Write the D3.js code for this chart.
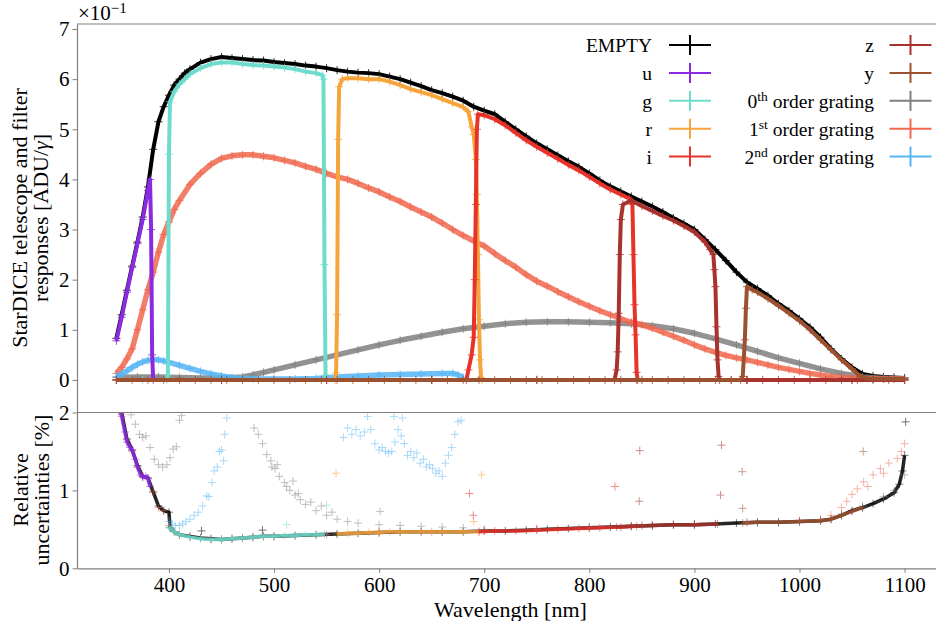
<!DOCTYPE html>
<html>
<head>
<meta charset="utf-8">
<script src="https://cdn.jsdelivr.net/npm/d3@7"></script>
<style>
  body { margin: 0; background: #fff; }
  svg, svg text { font-family: "Liberation Serif", "Times New Roman", Times, "Tinos", "Nimbus Roman", "DejaVu Serif", serif; fill: #000; }
</style>
</head>
<body>
<svg id="chart" width="936" height="621" font-family="Liberation Serif, Times New Roman, DejaVu Serif, serif"></svg>
<script>
// tick labels
const xTicks = [400, 500, 600, 700, 800, 900, 1000, 1100];
const topTicks = [0, 1, 2, 3, 4, 5, 6, 7];
const botTicks = [0, 1, 2];

// legend entries: [main, superscript, rest]
const legendLeft = [["EMPTY"], ["u"], ["g"], ["r"], ["i"]];
const legendRight = [["z"], ["y"], ["0", "th", " order grating"], ["1", "st", " order grating"], ["2", "nd", " order grating"]];

// responses, units of 1e-1 ADU/photon : [wavelength nm, value]
const respEmpty = [[350,0.83],[355,1.3],[360,1.79],[365,2.27],[370,2.75],[375,3.25],[380,3.85],[385,4.6],[390,5.15],[395,5.45],[400,5.68],[405,5.88],[410,6.0],[415,6.12],[420,6.2],[430,6.33],[440,6.4],[450,6.44],[460,6.42],[470,6.4],[480,6.38],[490,6.37],[500,6.34],[510,6.32],[520,6.3],[530,6.27],[540,6.25],[550,6.22],[560,6.18],[570,6.15],[580,6.13],[590,6.12],[600,6.1],[610,6.05],[620,6.0],[630,5.93],[640,5.86],[650,5.78],[660,5.72],[670,5.65],[680,5.57],[690,5.45],[700,5.37],[710,5.3],[720,5.15],[730,5.0],[740,4.86],[750,4.72],[760,4.6],[770,4.48],[780,4.36],[790,4.25],[800,4.12],[810,3.98],[820,3.86],[830,3.76],[840,3.66],[850,3.56],[860,3.46],[870,3.35],[880,3.23],[890,3.12],[900,3.0],[910,2.8],[920,2.6],[930,2.38],[940,2.15],[950,1.95],[960,1.82],[970,1.68],[980,1.52],[990,1.38],[1000,1.22],[1010,1.05],[1020,0.85],[1030,0.62],[1040,0.42],[1050,0.25],[1060,0.12],[1070,0.08],[1080,0.06],[1090,0.05],[1100,0.04]];
const respU = [[350,0.78],[355,1.25],[360,1.75],[365,2.24],[370,2.72],[375,3.2],[380,3.78],[382,4.0],[383,3.0],[384,0.5],[385,0],[450,0],[550,0],[650,0],[750,0],[850,0],[950,0],[1050,0],[1100,0]];
const respG = [[350,0],[375,0],[398,0],[399,0.1],[400,4.5],[401,5.55],[405,5.75],[410,5.9],[415,6.0],[420,6.1],[430,6.22],[440,6.3],[450,6.33],[460,6.33],[470,6.3],[480,6.28],[490,6.27],[500,6.25],[510,6.23],[520,6.2],[530,6.15],[540,6.12],[546,6.08],[547,6.0],[548,2.3],[549,0.1],[550,0],[650,0],[750,0],[850,0],[950,0],[1050,0],[1100,0]];
const respR = [[350,0],[450,0],[558,0],[559,0.14],[560,1.3],[561,4.8],[562,5.85],[565,6.0],[570,6.02],[580,6.02],[590,6.0],[600,6.0],[610,5.95],[620,5.88],[630,5.8],[640,5.74],[650,5.68],[660,5.6],[670,5.52],[680,5.44],[685,5.35],[688,5.05],[690,4.9],[692,4.4],[693,3.7],[694,2.5],[695,1.2],[696,0.4],[697,0.05],[698,0],[750,0],[850,0],[950,0],[1050,0],[1100,0]];
const respI = [[350,0],[450,0],[550,0],[650,0],[683,0],[685,0.2],[688,0.5],[690,0.85],[691,2.0],[692,3.5],[693,5.0],[694,5.3],[700,5.28],[710,5.2],[720,5.08],[730,4.93],[740,4.78],[750,4.65],[760,4.53],[770,4.41],[780,4.29],[790,4.18],[800,4.05],[810,3.92],[820,3.8],[830,3.7],[838,3.62],[841,3.5],[842,2.5],[843,1.5],[844,0.9],[845,0.15],[846,0],[950,0],[1050,0],[1100,0]];
const respZ = [[350,0],[450,0],[550,0],[650,0],[750,0],[824,0],[826,0.2],[827,0.56],[828,1.33],[829,2.5],[830,3.2],[832,3.5],[840,3.58],[850,3.47],[860,3.37],[870,3.27],[880,3.18],[890,3.07],[900,2.95],[910,2.75],[915,2.6],[918,2.5],[919,2.2],[920,1.86],[921,1.06],[922,0.4],[923,0.07],[924,0],[935,0],[950,0],[965,0],[980,0],[995,0],[1010,0],[1025,0],[1040,0],[1055,0],[1070,0],[1085,0],[1100,0]];
const respY = [[350,0],[365,0],[380,0],[395,0],[410,0],[425,0],[440,0],[455,0],[470,0],[485,0],[500,0],[515,0],[530,0],[545,0],[560,0],[575,0],[590,0],[605,0],[620,0],[635,0],[650,0],[665,0],[680,0],[695,0],[710,0],[725,0],[740,0],[755,0],[770,0],[785,0],[800,0],[815,0],[830,0],[845,0],[860,0],[875,0],[890,0],[905,0],[920,0],[935,0],[944,0],[946,0.07],[948,0.8],[949,1.43],[950,1.86],[955,1.8],[960,1.75],[970,1.62],[980,1.48],[990,1.33],[1000,1.18],[1010,1.0],[1020,0.8],[1030,0.6],[1040,0.4],[1050,0.22],[1058,0.07],[1065,0.03],[1070,0.02],[1080,0.02],[1090,0.02],[1100,0.02]];
const resp0th = [[350,0.05],[370,0.06],[390,0.06],[410,0.05],[430,0.04],[450,0.04],[470,0.06],[480,0.1],[490,0.15],[500,0.2],[520,0.3],[540,0.4],[560,0.5],[580,0.6],[600,0.7],[620,0.79],[640,0.87],[660,0.95],[680,1.02],[700,1.07],[720,1.12],[740,1.15],[760,1.16],[780,1.16],[800,1.15],[820,1.14],[840,1.12],[860,1.08],[880,1.02],[900,0.93],[920,0.82],[940,0.7],[960,0.57],[980,0.44],[1000,0.33],[1020,0.22],[1040,0.13],[1060,0.06],[1080,0.03],[1100,0.02]];
const resp1st = [[350,0.13],[355,0.25],[360,0.42],[365,0.62],[370,1.0],[375,1.4],[380,1.8],[385,2.15],[390,2.55],[395,2.9],[400,3.15],[405,3.4],[410,3.58],[420,3.9],[430,4.12],[440,4.3],[450,4.42],[460,4.47],[470,4.49],[480,4.49],[490,4.46],[500,4.43],[510,4.38],[520,4.33],[530,4.26],[540,4.2],[550,4.12],[560,4.05],[570,4.0],[580,3.92],[590,3.83],[600,3.75],[610,3.65],[620,3.56],[630,3.45],[640,3.35],[650,3.25],[660,3.13],[670,3.0],[680,2.88],[690,2.77],[700,2.67],[710,2.52],[720,2.38],[730,2.25],[740,2.1],[750,1.97],[760,1.87],[770,1.76],[780,1.66],[790,1.56],[800,1.47],[810,1.38],[820,1.3],[830,1.22],[840,1.15],[850,1.1],[860,1.03],[870,0.95],[880,0.87],[890,0.79],[900,0.7],[910,0.62],[920,0.55],[930,0.49],[940,0.44],[950,0.4],[960,0.35],[970,0.3],[980,0.25],[990,0.21],[1000,0.17],[1010,0.13],[1020,0.1],[1030,0.07],[1040,0.05],[1050,0.04],[1060,0.03],[1070,0.02],[1080,0.02],[1090,0.02],[1100,0.02]];
const resp2nd = [[350,0.07],[355,0.12],[360,0.18],[365,0.25],[370,0.31],[375,0.36],[380,0.39],[385,0.4],[390,0.4],[395,0.38],[400,0.35],[410,0.29],[420,0.23],[430,0.17],[440,0.12],[450,0.08],[460,0.05],[470,0.03],[480,0.02],[500,0.02],[520,0.02],[540,0.03],[560,0.06],[580,0.08],[600,0.1],[620,0.11],[640,0.12],[660,0.13],[670,0.13],[675,0.1],[680,0.05]];

// relative uncertainties in % : [wavelength nm, value]
const uncEmpty = [[350,2.3],[355,2.0],[360,1.66],[365,1.52],[370,1.32],[375,1.18],[380,1.16],[385,0.98],[390,0.8],[395,0.74],[400,0.72],[401,0.52],[405,0.47],[410,0.43],[420,0.41],[430,0.39],[440,0.38],[450,0.37],[460,0.38],[470,0.39],[480,0.4],[490,0.41],[500,0.41],[520,0.42],[540,0.43],[560,0.44],[580,0.45],[600,0.46],[620,0.47],[640,0.47],[660,0.47],[680,0.47],[700,0.48],[720,0.48],[740,0.49],[760,0.5],[780,0.51],[800,0.52],[820,0.53],[840,0.54],[860,0.55],[880,0.56],[900,0.56],[920,0.57],[940,0.58],[960,0.59],[980,0.59],[1000,0.6],[1020,0.61],[1030,0.63],[1040,0.68],[1050,0.74],[1060,0.78],[1070,0.83],[1080,0.89],[1090,0.97],[1095,1.08],[1098,1.25],[1100,1.45]];
const uncU = [[352,2.05],[355,1.95],[358,1.75],[360,1.62],[363,1.55],[365,1.52],[368,1.4],[370,1.3],[373,1.2],[375,1.17],[378,1.18],[380,1.15],[382,1.05]];
const uncG = [[400,0.53],[405,0.47],[410,0.43],[420,0.4],[430,0.38],[440,0.37],[450,0.37],[460,0.38],[470,0.39],[480,0.4],[490,0.41],[500,0.41],[510,0.42],[520,0.42],[530,0.43],[540,0.43],[548,0.44]];
const uncR = [[560,0.44],[570,0.45],[580,0.45],[590,0.46],[600,0.46],[610,0.47],[620,0.47],[640,0.47],[660,0.47],[680,0.47],[695,0.47]];
const uncI = [[695,0.47],[710,0.48],[730,0.48],[750,0.49],[770,0.5],[790,0.51],[810,0.52],[830,0.53],[845,0.54]];
const uncZ = [[826,0.53],[840,0.54],[860,0.55],[880,0.56],[900,0.56],[922,0.57]];
const uncY = [[946,0.58],[960,0.59],[980,0.59],[1000,0.6],[1020,0.61],[1030,0.63],[1040,0.68],[1050,0.73],[1060,0.78]];
const unc0th = [[364,1.97],[368,1.85],[372,1.72],[375,1.68],[378,1.7],[382,1.55],[386,1.4],[390,1.33],[394,1.3],[398,1.33],[401,1.42],[404,1.53],[407,1.56],[410,1.9],[412,1.96],[481,1.8],[485,1.72],[489,1.6],[493,1.46],[497,1.38],[498,1.3],[501,1.28],[503,1.33],[505,1.18],[510,1.1],[512,1.05],[515,1.0],[518,1.12],[520,0.94],[523,0.96],[525,0.88],[530,0.82],[535,0.85],[540,0.74],[545,0.8],[550,0.68],[555,0.72],[560,0.63],[570,0.6],[580,0.58],[600,0.56],[601,0.73],[620,0.55],[640,0.54],[660,0.53],[680,0.52],[700,0.5],[750,0.51],[800,0.53],[850,0.55],[900,0.57],[950,0.59],[1000,0.6],[1040,0.7],[1060,0.8],[1080,0.92],[1090,1.0],[1100,1.2]];
const unc1st = [[350,2.1],[355,1.98],[360,1.65],[365,1.5],[370,1.3],[375,1.18],[380,1.15],[385,0.98],[390,0.78],[395,0.74],[400,0.55],[410,0.43],[420,0.4],[440,0.37],[460,0.38],[480,0.4],[500,0.41],[550,0.43],[600,0.46],[650,0.47],[700,0.48],[750,0.5],[800,0.52],[850,0.55],[900,0.57],[950,0.59],[1000,0.61],[1020,0.63],[1030,0.68],[1040,0.78],[1045,0.86],[1050,0.95],[1055,1.02],[1061,1.11],[1065,1.05],[1070,1.2],[1077,1.28],[1080,1.22],[1085,1.35],[1093,1.41],[1097,1.5],[1100,1.6]];
const unc2nd = [[400,0.6],[403,0.57],[406,0.55],[410,0.55],[413,0.57],[416,0.6],[420,0.63],[424,0.68],[428,0.72],[432,0.8],[436,0.93],[438,0.92],[441,1.1],[443,1.25],[446,1.3],[448,1.5],[450,1.52],[452,1.38],[453,1.72],[455,1.93],[566,1.68],[570,1.8],[574,1.72],[578,1.78],[582,1.7],[586,1.75],[589,1.95],[592,1.78],[596,1.6],[600,1.52],[603,1.55],[606,1.5],[609,1.48],[612,1.5],[614,1.95],[615,1.62],[618,1.78],[621,1.7],[622,1.93],[624,1.6],[627,1.45],[630,1.5],[633,1.42],[636,1.48],[639,1.35],[642,1.4],[645,1.3],[648,1.33],[651,1.28],[654,1.22],[657,1.25],[660,1.18],[663,1.35],[666,1.45],[669,1.55],[672,1.72],[675,1.88],[678,1.9]];
// isolated high points: [wavelength nm, value, series]
const uncStray = [[559,1.22,"r"],[697.5,1.2,"r"],[690,0.6,"r"],[686,0.96,"i"],[689.6,0.68,"i"],[824.4,1.05,"i"],[848,1.51,"z"],[847.5,0.86,"z"],[925.8,1.58,"z"],[924.8,0.94,"z"],[945.5,1.24,"y"],[945.9,0.77,"y"],[1060.6,1.5,"y"],[550,0.81,"g"],[512,0.56,"g"],[431,0.48,"EMPTY"],[489,0.49,"EMPTY"],[1101,1.88,"EMPTY"]];

const colors = {
  EMPTY: "#000000", u: "#8a2be2", g: "#6edccd", r: "#f6a53c", i: "#e8332a",
  z: "#a8322d", y: "#9c5230", o0: "#808080", o1: "#f0684f", o2: "#55b5f5"
};
const legendColorsLeft = ["EMPTY", "u", "g", "r", "i"];
const legendColorsRight = ["z", "y", "o0", "o1", "o2"];

const svg = d3.select("#chart");
const x = d3.scaleLinear().domain([312.5, 1137.5]).range([77, 944]);
const yTop = d3.scaleLinear().domain([-0.65, 7.1]).range([412.5, 24]);
const yBot = d3.scaleLinear().domain([0, 2]).range([568.3, 412.5]);
const axisColor = "#808080";
const serif = "'Liberation Serif', 'Times New Roman', Times, Tinos, 'Nimbus Roman', 'DejaVu Serif', serif";

const defs = svg.append("defs");
defs.append("clipPath").attr("id", "clipTop").append("rect")
  .attr("x", 77).attr("y", 24).attr("width", 867).attr("height", 388.5);
defs.append("clipPath").attr("id", "clipBot").append("rect")
  .attr("x", 77).attr("y", 412.5).attr("width", 867).attr("height", 155.8);

const plus = s => `M${-s / 2},0H${s / 2}M0,${-s / 2}V${s / 2}`;

function drawSeries(g, data, yScale, color, o) {
  if (o.line) {
    g.append("path").datum(data)
      .attr("d", d3.line().x(d => x(d[0])).y(d => yScale(d[1])))
      .attr("fill", "none").attr("stroke", color)
      .attr("stroke-width", o.line).attr("stroke-linejoin", "round")
      .attr("opacity", o.lineOpacity || 1);
  }
  g.selectAll(null).data(data).enter().append("path")
    .attr("transform", d => `translate(${x(d[0])},${yScale(d[1])})`)
    .attr("d", plus(o.size))
    .attr("stroke", color).attr("stroke-width", 1)
    .attr("opacity", o.markOpacity);
}

// top panel
const gTop = svg.append("g").attr("clip-path", "url(#clipTop)");
const topOrder = [
  [respEmpty, "EMPTY"], [resp0th, "o0"], [resp1st, "o1"], [resp2nd, "o2"],
  [respU, "u"], [respG, "g"], [respR, "r"], [respI, "i"], [respZ, "z"], [respY, "y"]
];
topOrder.forEach(([data, key]) => {
  const band = key[0] === "o" ? 5.5 : 4;
  drawSeries(gTop, data, yTop, colors[key], { line: band, lineOpacity: key[0] === "o" ? 0.85 : 1, size: 8, markOpacity: 0.8 });
});

// bottom panel
const gBot = svg.append("g").attr("clip-path", "url(#clipBot)");
const botOrder = [
  [uncEmpty, "EMPTY", true], [unc0th, "o0", false], [unc1st, "o1", false], [unc2nd, "o2", false],
  [uncU, "u", true], [uncG, "g", true], [uncR, "r", true], [uncI, "i", true], [uncZ, "z", true], [uncY, "y", true]
];
botOrder.forEach(([data, key, withLine]) => {
  drawSeries(gBot, data, yBot, colors[key], { line: withLine ? 3.5 : 0, lineOpacity: 0.85, size: 8, markOpacity: 0.5 });
});
gBot.selectAll(null).data(uncStray).enter().append("path")
  .attr("transform", d => `translate(${x(d[0])},${yBot(d[1])})`)
  .attr("d", plus(8))
  .attr("stroke", d => colors[d[2]]).attr("stroke-width", 1).attr("opacity", 0.55);

// axes
function styleAxis(g) {
  g.attr("font-family", serif).attr("font-size", null);
  g.selectAll(".domain").attr("stroke", axisColor).attr("stroke-width", 1.2);
  g.selectAll(".tick line").attr("stroke", axisColor);
  g.selectAll(".tick text").style("font-size", "21px").attr("font-family", serif);
}
svg.append("g").attr("transform", "translate(77,0)")
  .call(d3.axisLeft(yTop).tickValues(topTicks).tickSize(4.5).tickSizeOuter(0).tickPadding(3).tickFormat(d3.format("d")))
  .call(styleAxis);
svg.append("g").attr("transform", "translate(77,0)")
  .call(d3.axisLeft(yBot).tickValues(botTicks).tickSize(4.5).tickSizeOuter(0).tickPadding(3).tickFormat(d3.format("d")))
  .call(styleAxis);
svg.append("g").attr("transform", "translate(0,568.3)")
  .call(d3.axisBottom(x).tickValues(xTicks).tickSize(4.5).tickSizeOuter(0).tickPadding(4).tickFormat(d3.format("d")))
  .call(styleAxis);
[24, 412.5].forEach(yy => {
  svg.append("line").attr("x1", 77).attr("x2", 944).attr("y1", yy).attr("y2", yy)
    .attr("stroke", axisColor).attr("stroke-width", 1.2);
});

function label(t) { return t.attr("font-family", serif); }

// offset text
const off = label(svg.append("text")).attr("x", 78).attr("y", 20).style("font-size", "21px");
off.append("tspan").text("×10");
off.append("tspan").attr("dy", -7).style("font-size", "15px").text("−1");

// axis labels
label(svg.append("text")).attr("x", 510.5).attr("y", 616.5).attr("text-anchor", "middle")
  .style("font-size", "22px").text("Wavelength [nm]");
label(svg.append("text")).attr("transform", "translate(27,218) rotate(-90)").attr("text-anchor", "middle")
  .style("font-size", "22px").text("StarDICE telescope and filter");
const yl2 = label(svg.append("text")).attr("transform", "translate(48,218) rotate(-90)").attr("text-anchor", "middle")
  .style("font-size", "22px");
yl2.append("tspan").text("responses [ADU/");
yl2.append("tspan").style("font-style", "italic").text("γ");
yl2.append("tspan").text("]");
label(svg.append("text")).attr("transform", "translate(28,490) rotate(-90)").attr("text-anchor", "middle")
  .style("font-size", "22px").text("Relative");
label(svg.append("text")).attr("transform", "translate(49,490) rotate(-90)").attr("text-anchor", "middle")
  .style("font-size", "22px").text("uncertainties [%]");

// legend
function legendColumn(entries, keys, textRight, handleCenter) {
  entries.forEach((lab, k) => {
    const cy = 45 + k * 27.9;
    const t = label(svg.append("text")).attr("x", textRight).attr("y", cy + 7)
      .attr("text-anchor", "end").style("font-size", "19.5px");
    t.append("tspan").text(lab[0]);
    if (lab[1]) {
      t.append("tspan").attr("dy", -7).style("font-size", "13.5px").text(lab[1]);
      t.append("tspan").attr("dy", 7).text(lab[2]);
    }
    const c = colors[keys[k]];
    svg.append("line").attr("x1", handleCenter - 21).attr("x2", handleCenter + 21)
      .attr("y1", cy).attr("y2", cy).attr("stroke", c).attr("stroke-width", 2);
    svg.append("line").attr("x1", handleCenter).attr("x2", handleCenter)
      .attr("y1", cy - 10).attr("y2", cy + 10).attr("stroke", c).attr("stroke-width", 2);
  });
}
legendColumn(legendLeft, legendColorsLeft, 652, 690);
legendColumn(legendRight, legendColorsRight, 874, 910.5);
</script>
</body>
</html>
